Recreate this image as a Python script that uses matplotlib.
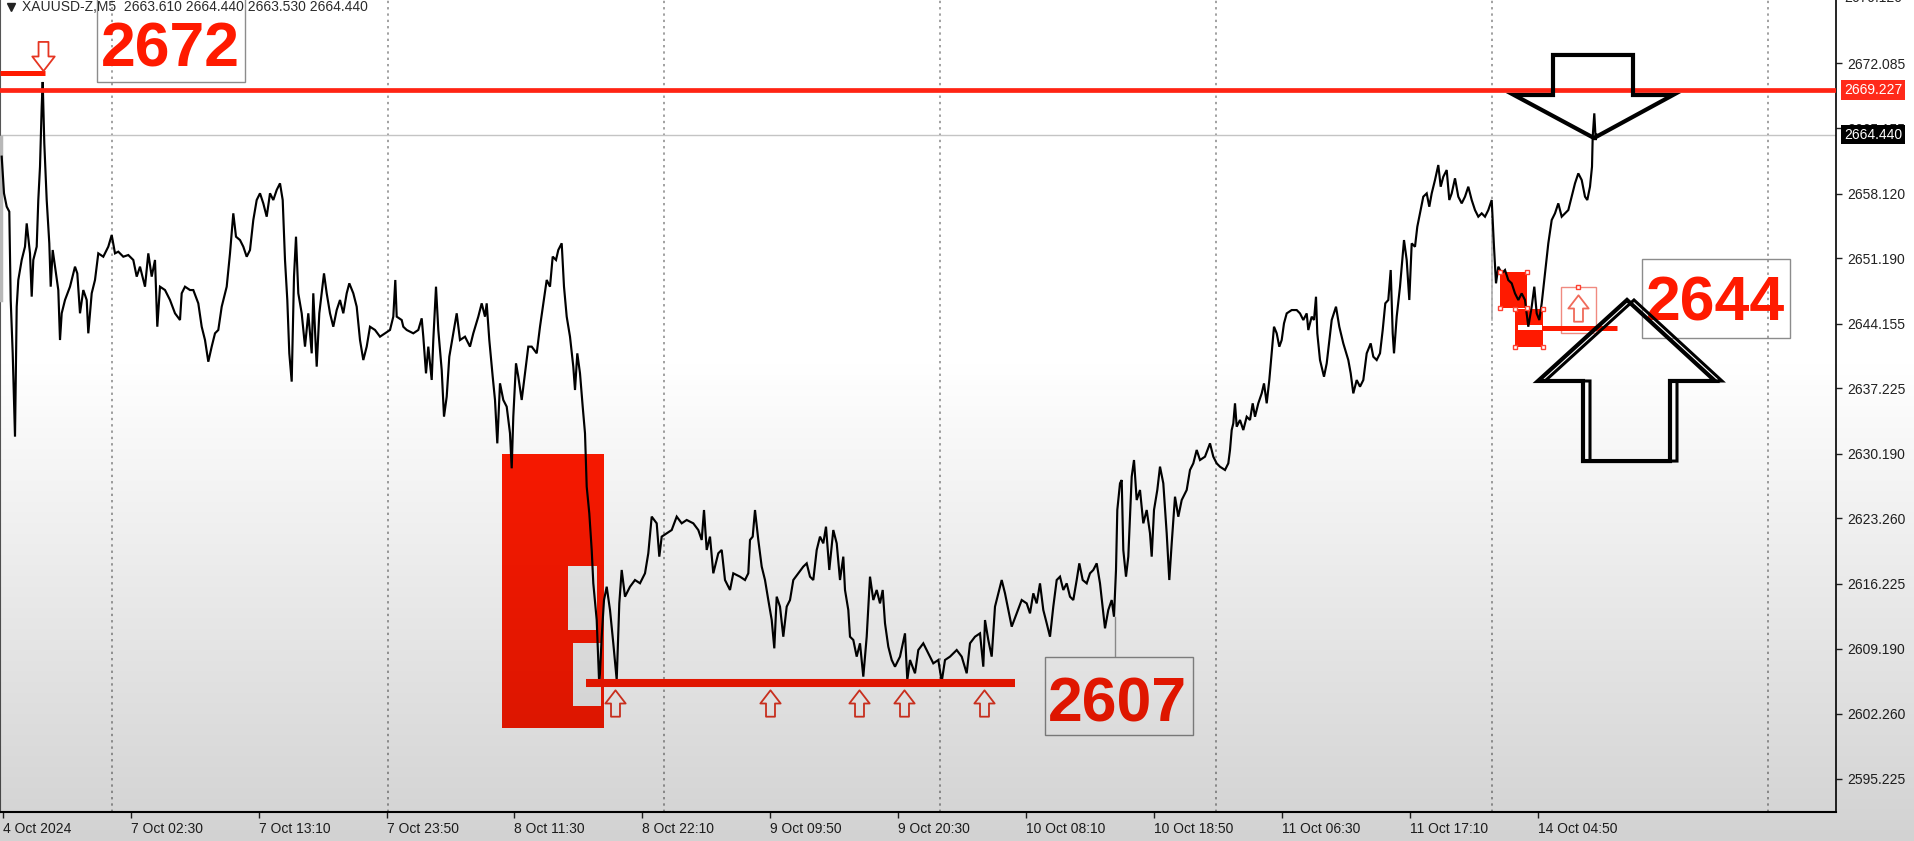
import numpy as np
import matplotlib
matplotlib.use('Agg')
import matplotlib.pyplot as plt
from matplotlib.path import Path
from matplotlib.patches import Rectangle, Polygon
import matplotlib.transforms as mtransforms

plt.rcParams['font.family'] = ['Liberation Sans', 'DejaVu Sans']

# ---------------- data (bar index, close price) ----------------
price_points = [
 (1.7,2662.08),(4,2658.14),(6.7,2656.71),(9.3,2656.17),(10.7,2646.68),(12.7,2640.95),(15,2632.00),(16.7,2645.96),
 (18.3,2648.83),(21.7,2650.98),(25,2652.41),(26.7,2654.91),(30,2651.69),(31.7,2647.04),(33.3,2650.98),(36.7,2652.41),
 (38.3,2657.42),(40,2661.00),(41.7,2667.45),(42.7,2670.10),(44.3,2663.51),(46.7,2657.42),(49.3,2652.77),(50.7,2648.11),
 (52.7,2652.05),(55,2650.26),(58.3,2647.75),(60,2642.38),(61.7,2645.25),(65,2646.68),(70,2648.11),(75,2650.26),
 (77.3,2649.54),(80,2645.25),(83.3,2647.75),(86.7,2646.68),(88.3,2643.10),(91.7,2647.40),(95,2648.83),(98.3,2651.69),
 (103.3,2651.33),(108.3,2652.41),(111.7,2653.66),(115,2651.69),(118.3,2651.87),(123.3,2651.33),(128.3,2651.51),
 (133.3,2650.98),(136.7,2649.19),(140,2650.26),(145,2648.11),(148.3,2651.69),(151.7,2649.19),(155,2650.98),
 (157.3,2643.81),(160,2648.11),(165,2647.75),(170,2646.68),(175,2645.25),(180,2644.53),(181.7,2647.40),(185,2648.11),
 (190,2647.75),(193.3,2647.75),(198.3,2646.32),(201.7,2643.81),(205,2642.38),(208.3,2640.05),(211.7,2641.67),
 (215,2643.10),(218.3,2643.46),(221.7,2645.96),(226.7,2648.11),(230,2651.69),(233.3,2655.99),(236,2653.48),
 (240,2653.12),(243.3,2652.41),(246.7,2651.33),(250,2652.05),(253.3,2655.27),(256.7,2657.42),(260,2658.14),
 (263.3,2657.06),(266.7,2655.63),(270,2658.14),(273.3,2657.42),(276.7,2658.50),(280,2659.21),(282.7,2657.42),
 (285,2650.98),(287.3,2646.68),(289.3,2640.95),(291.7,2637.91),(294,2649.19),(296,2653.48),(298.3,2647.40),
 (301.7,2645.25),(305,2641.67),(308.3,2645.25),(311.7,2640.95),(313.3,2647.40),(316.7,2639.52),(319.3,2645.25),
 (321.7,2647.40),(324,2649.54),(326.7,2647.40),(330,2645.25),(333.3,2643.81),(336.7,2645.60),(340,2646.68),
 (343.3,2645.25),(346.7,2647.40),(349.3,2648.47),(353.3,2647.40),(356.7,2645.96),(360,2642.38),(363.3,2640.23),
 (366.7,2641.67),(370,2643.81),(375,2643.46),(380,2642.74),(385,2643.10),(390,2643.46),(393.3,2644.89),
 (395.3,2648.83),(396.7,2644.89),(401.7,2644.53),
 (403.3,2643.81),(406.7,2643.46),(413.3,2643.10),(418.3,2643.46),(421.7,2644.71),(423.3,2642.74),(426,2638.80),
 (428.3,2641.67),(431.7,2638.09),(433.3,2642.38),(436,2648.11),(438.3,2643.46),(441.7,2639.16),(444,2634.15),
 (446.7,2636.30),(449.3,2640.59),(453.3,2643.10),(456.7,2645.25),(460,2642.38),(465,2642.74),(470,2641.67),
 (473.3,2643.10),(478.3,2644.89),(481.7,2646.32),(485,2644.89),(486.7,2646.32),(489.3,2642.38),(492.7,2638.44),
 (495,2635.94),(497.3,2631.28),(500,2637.73),(503.3,2635.94),(506.7,2635.22),(510,2632.36),(511.7,2628.60),
 (513.3,2634.15),(516,2639.88),(518.3,2638.44),(521.7,2635.94),(525,2638.80),(528.3,2641.67),(531.7,2641.67),
 (536.7,2640.95),(540,2643.81),(543.3,2646.32),(546.7,2648.83),(550,2648.11),(552.7,2651.34),(556,2650.98),
 (558.3,2652.05),(561.7,2652.77),(564,2648.11),(566.7,2644.89),(570,2642.74),(573.3,2639.52),(575,2637.01),
 (577.3,2640.95),(580,2638.80),(582.7,2635.22),(585,2632.36),(586.7,2626.63),(589.3,2623.76),(591.7,2619.83),
 (593.3,2616.25),(596.7,2612.31),(599.3,2605.14),(601.7,2610.51),(604,2614.45),(606.7,2615.88),(610,2613.38),
 (613.3,2609.80),(616.7,2605.86),(619.3,2614.09),(621.7,2617.68),(625,2614.81),(630,2615.88),(635,2616.60),
 (640,2616.25),(645,2617.32),(648.3,2619.47),(651.7,2623.41),(656.7,2622.69),(659.3,2619.11),(661.7,2621.26),
 (666.7,2621.62),(671.7,2621.97),(676.7,2623.41),(681.7,2622.69),(686.7,2623.05),(693.3,2622.69),(698.3,2621.97),
 (701.7,2620.90),(704,2624.12),(706.7,2619.83),(710,2621.26),(713.3,2617.32),(718.3,2619.47),(721.7,2619.83),
 (725,2616.60),(730,2615.53),(733.3,2617.32),(740,2616.96),(745,2616.60),(748.3,2617.32),(750,2620.90),
 (752.7,2621.26),(755,2624.12),(758.3,2620.90),(761.7,2618.04),(765,2616.60),(768.3,2614.45),(771.7,2612.31),
 (774.3,2609.26),(776.7,2614.81),(780,2613.74),(783.3,2610.51),(786.7,2613.74),(790,2614.45),(793.3,2616.60),
 (798.3,2617.32),(803.3,2618.04),
 (806.7,2618.39),(810,2616.96),(813.3,2616.60),(816.7,2619.82),(820,2621.26),(823.3,2620.54),(826,2622.33),
 (829.3,2617.68),(833.3,2621.97),(836.7,2620.54),(840,2616.60),(843.3,2619.11),(845,2615.53),(848.3,2613.38),
 (850,2610.51),(853.3,2610.16),(856.7,2608.37),(860,2609.80),(863.3,2606.22),(866.7,2610.51),(870,2616.96),
 (873.3,2614.45),(876.7,2615.53),(880,2614.09),(882.7,2615.53),(885,2611.95),(888.3,2609.44),(891.7,2608.01),
 (895,2607.29),(900,2608.37),(905,2610.87),(907.3,2605.86),(910,2608.01),(915,2606.58),(918.3,2609.08),
 (923.3,2609.80),(928.3,2608.72),(933.3,2607.65),(938.3,2608.01),(941.7,2605.68),(945,2608.01),(950,2608.37),
 (956.7,2609.08),(961.7,2608.37),(966.7,2606.58),(970,2609.80),(975,2610.51),(980,2610.87),(983.3,2607.29),
 (985,2612.30),(988.3,2610.16),(991.7,2608.37),(995,2613.74),(998.3,2615.17),(1001.7,2616.60),(1005,2615.17),
 (1008.3,2613.38),(1011.7,2611.59),(1016.7,2613.02),(1021.7,2614.45),(1026.7,2614.09),(1030,2613.02),
 (1033.3,2615.17),(1036.7,2614.09),(1040,2616.24),(1043.3,2613.38),(1046.7,2611.95),(1050,2610.51),
 (1053.3,2613.74),(1056.7,2616.60),(1060,2616.96),(1063.3,2615.53),(1066.7,2616.24),(1070,2614.81),
 (1073.3,2614.45),(1076.7,2616.60),(1079.3,2618.39),(1082.7,2616.60),(1086.7,2616.24),(1090,2617.32),
 (1093.3,2617.68),(1096.7,2618.39),(1100,2616.24),(1103.3,2613.02),(1105,2611.41),(1108.3,2613.38),
 (1111.7,2614.45),(1114,2612.66),(1116,2617.68),(1117.3,2624.12),(1120,2626.99),(1121.7,2627.34),
 (1123.3,2619.82),(1126,2616.96),(1128.3,2619.11),(1131.7,2627.70),(1134,2629.49),(1136.7,2625.19),
 (1140,2626.27),(1143.3,2622.69),(1146.7,2624.12),(1150,2621.61),(1151.7,2619.11),(1154,2624.12),
 (1157.3,2626.27),(1160,2628.78),(1163.3,2626.99),(1166.7,2621.61),(1169.3,2616.60),(1171.7,2620.54),
 (1175,2625.55),(1178.3,2623.40),(1181.7,2625.19),(1186.7,2626.27),(1190,2628.42),(1193.3,2629.13),
 (1196.7,2630.57),(1200,2629.49),(1205,2629.85),(1210,2631.28),(1213.3,2629.85),(1216.7,2629.13),
 (1220,2628.77),(1225,2628.42),(1228.3,2629.13),(1230,2630.56),(1231.7,2632.71),(1233.3,2633.43),(1235,2635.58),
 (1236.7,2633.07),(1240,2633.79),(1243.3,2632.71),(1246.7,2634.14),(1250,2633.79),(1252.7,2635.58),(1255,2634.14),
 (1258.3,2635.58),(1261.7,2636.65),(1264,2637.72),(1266.7,2635.58),(1269.3,2638.08),(1271.7,2640.95),
 (1274,2643.81),(1276.7,2643.10),(1279.3,2641.66),(1281.7,2642.38),(1284,2644.17),(1286.7,2645.24),
 (1291.7,2645.60),(1296.7,2645.60),(1300,2645.24),(1303.3,2644.53),(1306.7,2645.24),(1308.3,2643.45),
 (1311.7,2644.89),(1314,2644.53),(1316,2647.03),(1317.3,2643.10),(1320,2640.23),(1324,2638.44),(1326.7,2639.87),
 (1331.7,2644.53),(1336,2645.96),(1339.3,2643.81),(1343.3,2642.02),(1348.3,2640.23),(1350.7,2638.80),
 (1353.3,2636.65),(1356.7,2638.08),(1360,2637.37),(1363.3,2638.08),(1366.7,2640.95),(1370.7,2642.02),
 (1373.3,2640.59),(1376.7,2640.23),(1380,2640.95),(1382.7,2643.45),(1385.3,2646.32),(1388.3,2646.68),
 (1390.7,2649.90),(1392.7,2643.10),(1394,2640.95),(1396.7,2644.89),(1400,2648.11),(1404,2653.12),
 (1406.7,2650.97),(1409.3,2646.68),(1411.7,2652.76),(1415,2652.40),(1417.3,2654.55),(1420,2655.99),
 (1423.3,2657.78),(1426.7,2658.13),(1429.3,2656.70),(1431.7,2658.13),(1435,2659.57),(1438.3,2661.18),
 (1440.7,2658.85),(1443.3,2659.92),(1446.7,2660.64),(1449.3,2657.42),(1451.7,2658.13),(1455,2659.75),
 (1458.3,2657.78),(1461.7,2657.06),(1465,2657.78),(1468.3,2658.85),(1471.7,2657.42),(1475,2656.34),
 (1478.3,2655.63),(1481.7,2655.99),(1485,2655.63),(1488.3,2656.34),(1491.7,2657.42),
 (1494,2652.40),(1496,2648.47),(1498.3,2650.26),(1501.7,2649.54),(1505,2649.90),(1508.3,2648.82),
 (1511.7,2648.47),(1515,2647.39),(1518.3,2646.68),(1521.7,2647.39),(1525,2646.68),(1528.3,2643.81),
 (1531.7,2645.96),(1534.3,2648.11),(1536.7,2645.24),(1539.3,2644.53),(1541.7,2646.32),(1545,2649.54),
 (1548.3,2652.76),(1551.7,2655.27),(1555,2655.99),(1558.3,2657.06),(1561.7,2655.63),(1565,2655.99),
 (1568.3,2656.34),(1571.7,2657.78),(1575,2659.21),(1578.3,2660.28),(1581.7,2659.57),(1585,2657.78),
 (1587.3,2657.42),(1590,2658.85),(1592,2661.00),(1592.7,2664.22),(1594.3,2666.73),(1595.7,2663.86),
 (1596.7,2664.44),
]
bars = [p[0] for p in price_points]
closes = [p[1] for p in price_points]

title_text = "XAUUSD-Z,M5  2663.610 2664.440 2663.530 2664.440"

xtick_bars = [3, 131, 259, 387, 514, 642, 770, 898, 1026, 1154, 1282, 1410, 1538]
xtick_labels = ["4 Oct 2024", "7 Oct 02:30", "7 Oct 13:10", "7 Oct 23:50", "8 Oct 11:30",
                "8 Oct 22:10", "9 Oct 09:50", "9 Oct 20:30", "10 Oct 08:10", "10 Oct 18:50",
                "11 Oct 06:30", "11 Oct 17:10", "14 Oct 04:50"]
ytick_labels = ["2672.085", "2665.155", "2658.120", "2651.190", "2644.155", "2637.225",
                "2630.190", "2623.260", "2616.225", "2609.190", "2602.260", "2595.225"]
ytick_vals = [float(s) for s in ytick_labels]
top_label = "2679.120"
day_starts = [112, 388, 664, 940, 1216, 1492, 1768]

resistance = 2669.227
current_price = 2664.440
support_2607 = 2605.57
level_2644 = 2643.72
prev_high_line = 2671.10

up_arrows_bars = [615, 770, 859, 904, 984]
up_arrows_price = 2603.39

# ---------------- figure ----------------
W, H = 1915, 841
fig = plt.figure(figsize=(W / 100, H / 100), dpi=100)
fig.patch.set_facecolor('white')

ax = fig.add_axes([0, 29 / H, 1836 / W, 812 / H])
ax.patch.set_alpha(0)
ax.set_xlim(0, 1836)
ax.set_ylim(2591.68, 2678.906)

RED = '#ff1a00'

# day separators
for d in day_starts:
    ax.axvline(d, color='#9a9a9a', lw=1.3, ls=(0, (1.3, 2.2)), zorder=1)

# current price line
ax.axhline(current_price, color='#c4c4c4', lw=1.0, zorder=1)

# big red zone with inner white boxes
ax.add_patch(Rectangle((502, 2600.70), 102, 29.44, fc=RED, ec='none', zorder=2))
ax.add_patch(Rectangle((568, 2611.23), 29, 6.87, fc='#f4f4f4', ec='none', zorder=2.1))
ax.add_patch(Rectangle((573, 2603.07), 28, 6.76, fc='#f4f4f4', ec='none', zorder=2.1))

# 14 Oct boxes
ax.add_patch(Rectangle((1500, 2645.82), 27, 3.87, fc=RED, ec='none', zorder=2))
ax.add_patch(Rectangle((1515, 2641.63), 28, 4.08, fc=RED, ec='none', zorder=2))
ax.add_patch(Rectangle((1518, 2643.46), 24, 0.53, fc='white', ec='none', zorder=2.1))
ax.add_patch(Rectangle((1561, 2643.13), 35, 4.95, fc='none', ec='#f08a80', lw=1.0, zorder=2))
hx = [1500, 1527, 1500, 1527, 1515, 1543, 1515, 1543, 1578]
hy = [2649.69, 2649.69, 2645.82, 2645.82, 2645.71, 2645.71, 2641.63, 2641.63, 2648.08]
ax.plot(hx, hy, ls='none', marker='s', ms=3.5, mfc='white', mec='#ff4030', mew=1, zorder=5)

# price line
ax.plot(bars, closes, color='black', lw=1.55, zorder=3, solid_joinstyle='miter')
ax.plot([1492, 1492], [2655.27, 2644.53], color='#b0b0b0', lw=1.2, zorder=2.9)
ax.plot([1, 1], [2664.19, 2646.68], color='#b8b8b8', lw=2.5, zorder=2.9)
ax.plot([1115, 1115], [2612.63, 2608.44], color='#999999', lw=1.0, zorder=2.9)

# horizontal red levels
ax.axhline(resistance, color='#ff2414', lw=3.4, zorder=4)
ax.plot([0, 45], [prev_high_line, prev_high_line], color=RED, lw=3.6, zorder=4, solid_capstyle='butt')
ax.plot([586, 1015], [support_2607, support_2607], color=RED, lw=5.8, zorder=4, solid_capstyle='butt')
ax.plot([1542, 1617], [level_2644, level_2644], color=RED, lw=3.6, zorder=4, solid_capstyle='butt')

# hollow arrow markers
arrow_up = Path([(0, 1), (0.77, 0), (0.34, 0), (0.34, -1), (-0.34, -1), (-0.34, 0), (-0.77, 0), (0, 1)],
                [Path.MOVETO] + [Path.LINETO] * 6 + [Path.CLOSEPOLY])
arrow_down = Path([(x, -y) for x, y in arrow_up.vertices], arrow_up.codes)
ax.plot(up_arrows_bars, [up_arrows_price] * len(up_arrows_bars), ls='none', marker=arrow_up,
        ms=19, mfc='none', mec='#e53522', mew=1.3, zorder=5)
ax.plot([43], [2672.9], ls='none', marker=arrow_down, ms=21, mfc='none', mec='#e53522', mew=1.3, zorder=5)
ax.plot([1578], [2645.82], ls='none', marker=arrow_up, ms=19, mfc='none', mec='#f06a5a', mew=1.3, zorder=5)

# label boxes with big numbers
label_boxes = [((97, 2670.10, 148, 9.5), (170, 2671.71, '2672')),
               ((1045, 2599.95, 148, 8.38), (1117, 2601.45, '2607')),
               ((1642, 2642.60, 148, 8.48), (1715, 2644.53, '2644'))]
for (x0, y0, w, h), (tx, ty, s) in label_boxes:
    ax.add_patch(Rectangle((x0, y0), w, h, fc='none', ec='#8c8c8c', lw=1.0, zorder=5))
    ax.text(tx, ty, s, ha='center', va='baseline', fontsize=45, fontweight='bold', color=RED, zorder=6)

# big black outline arrows
down_big = [(1553, 2673.00), (1633, 2673.00), (1633, 2668.70), (1673, 2668.70), (1594, 2664.08),
            (1514, 2668.70), (1553, 2668.70)]
ax.add_patch(Polygon(down_big, closed=True, fill=False, ec='black', lw=3.0, joinstyle='miter', zorder=7))
up_big = [(1627, 2646.68), (1715, 2637.98), (1670, 2637.98), (1670, 2629.38), (1583, 2629.38),
          (1583, 2637.98), (1538, 2637.98)]
ax.add_patch(Polygon(up_big, closed=True, fill=False, ec='black', lw=3.0, joinstyle='miter', zorder=7))
ax.add_patch(Polygon([(x + 7, y) for x, y in up_big], closed=True, fill=False, ec='black', lw=2.2,
                     joinstyle='miter', zorder=7))

# axes styling
ax.spines['top'].set_visible(False)
ax.spines['left'].set_color('#555555')
ax.spines['left'].set_linewidth(0.8)
ax.spines['right'].set_color('black')
ax.spines['right'].set_linewidth(1.2)
ax.spines['bottom'].set_color('black')
ax.spines['bottom'].set_linewidth(1.5)

ax.set_xticks(xtick_bars)
ax.set_xticklabels(xtick_labels, ha='left')
ax.tick_params(axis='x', length=4, width=1, pad=3, labelsize=10, colors='#222222')
ax.yaxis.tick_right()
ax.set_yticks(ytick_vals)
ax.set_yticklabels(ytick_labels)
ax.tick_params(axis='y', length=4, width=1, pad=4, labelsize=10, colors='#222222')

yblend = mtransforms.blended_transform_factory(ax.transAxes, ax.transData)
lab_x = 1 + 8 / 1836
ax.text(lab_x, 2679.12, top_label, transform=yblend, ha='left', va='center', fontsize=10,
        color='#222222', clip_on=False)
ax.text(lab_x, resistance, f"{resistance:.3f}", transform=yblend, ha='left', va='center', fontsize=10,
        color='white', zorder=8, clip_on=False,
        bbox=dict(boxstyle='square,pad=0.2', fc='#ff2a1a', ec='none'))
ax.text(lab_x, current_price, f"{current_price:.3f}", transform=yblend, ha='left', va='center', fontsize=10,
        color='white', zorder=8, clip_on=False,
        bbox=dict(boxstyle='square,pad=0.2', fc='black', ec='none'))

# title
ax.plot([11 / 1836], [1 - 7 / 812], transform=ax.transAxes, marker='v', ms=6, color='#222222',
        clip_on=False, zorder=8)
ax.text(22 / 1836, 1 - 7 / 812, title_text, transform=ax.transAxes, ha='left', va='center',
        fontsize=10, color='#2a2a2a', zorder=8)

# screen shading (vertical gradient overlay)
ov = fig.add_axes([0, 0, 1, 1], zorder=50)
ov.axis('off')
ov.patch.set_alpha(0)
t = np.linspace(0, 1, 400)
alpha = np.clip((t - 0.42) / 0.58, 0, 1) * 0.18
img = np.zeros((400, 1, 4))
img[:, 0, 3] = alpha
ov.imshow(img, extent=[0, 1, 0, 1], aspect='auto', origin='upper', interpolation='bilinear')
ov.set_xlim(0, 1)
ov.set_ylim(0, 1)

fig.savefig('out.png', dpi=100)
